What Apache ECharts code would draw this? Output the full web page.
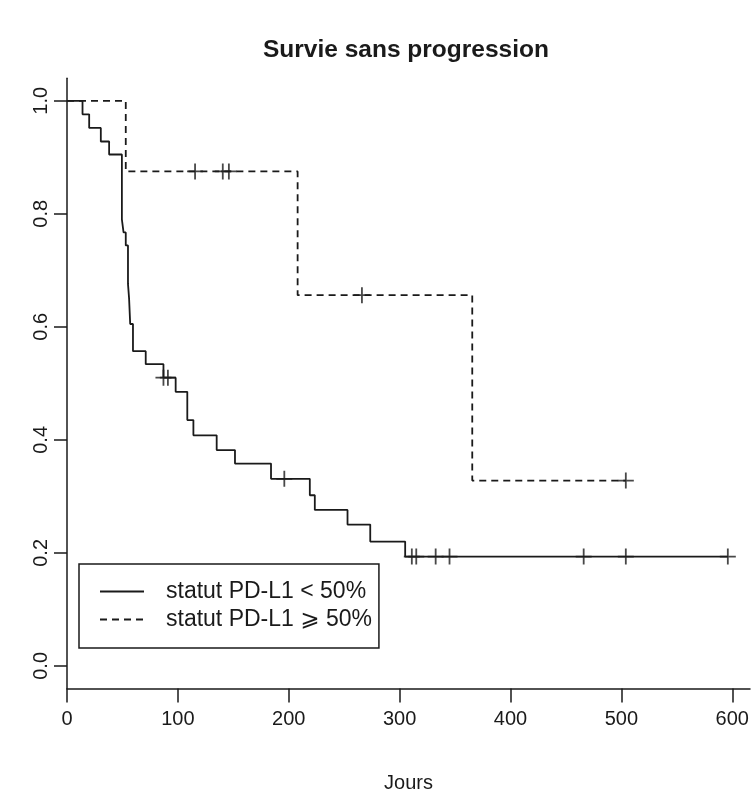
<!DOCTYPE html>
<html><head><meta charset="utf-8">
<script src="https://cdn.jsdelivr.net/npm/echarts@6/dist/echarts.min.js"></script>
<style>html,body{margin:0;padding:0;background:#fff}#c{width:753px;height:800px}</style>
</head><body><div id="c"></div>
<script>
// ---- chart data ----
const chartTitle = 'Survie sans progression';
const xAxisName = 'Jours';
const xTicks = [0, 100, 200, 300, 400, 500, 600];
const yTicks = [0, 0.2, 0.4, 0.6, 0.8, 1.0];
const lowName = 'statut PD-L1 < 50%';
const highName = 'statut PD-L1 \u2A7E 50%';

// PD-L1 < 50% : step times (days) and survival after each step
const lowDays = [0, 14, 20, 30.5, 38, 49.5, 51, 53, 55, 56, 57, 59.5, 71, 87, 98, 108.5, 114, 135, 151.5, 184, 219, 223.5, 253, 273.5, 305, 596];
const lowSurv = [1, 0.976, 0.952, 0.928, 0.905, 0.790, 0.767, 0.744, 0.676, 0.650, 0.605, 0.557, 0.534, 0.510, 0.485, 0.435, 0.408, 0.382, 0.358, 0.331, 0.302, 0.276, 0.250, 0.220, 0.1935, 0.1935];
const lowCensorDays = [87, 91, 196, 311, 315, 332.5, 345, 466, 504, 596];
const lowCensorSurv = [0.510, 0.510, 0.331, 0.1935, 0.1935, 0.1935, 0.1935, 0.1935, 0.1935, 0.1935];

// PD-L1 >= 50%
const highDays = [0, 53, 208, 365.5, 504];
const highSurv = [1, 0.875, 0.656, 0.328, 0.328];
const highCensorDays = [115.5, 140.5, 146, 266, 504];
const highCensorSurv = [0.875, 0.875, 0.875, 0.656, 0.328];

// ---- build ----
const zip = (a, b) => a.map((v, i) => [v, b[i]]);
const ink = '#1a1a1a';
const font = '"Liberation Sans", Arial, "DejaVu Sans", sans-serif';
const plus = 'path://M-0.9,-8 L0.9,-8 L0.9,8 L-0.9,8 Z M-8,-0.9 L8,-0.9 L8,0.9 L-8,0.9 Z';

const chart = echarts.init(document.getElementById('c'), null, {renderer: 'canvas'});
chart.setOption({
  animation: false,
  backgroundColor: '#fff',
  textStyle: {fontFamily: font, color: ink},
  title: {
    text: chartTitle, left: 258, top: 33,
    textStyle: {fontFamily: font, fontSize: 24.5, fontWeight: 'bold', color: ink}
  },
  grid: {left: 67, right: 3, top: 78.2, bottom: 111.5, containLabel: false},
  xAxis: {
    type: 'value', min: 0, max: 616,
    axisLine: {show: true, onZero: false, lineStyle: {color: ink, width: 1.5}},
    axisTick: {show: true, customValues: xTicks, length: 14, lineStyle: {color: ink, width: 1.5}},
    axisLabel: {customValues: xTicks, fontSize: 20, margin: 21, color: ink, fontFamily: font},
    splitLine: {show: false},
    name: xAxisName, nameLocation: 'middle', nameGap: 85,
    nameTextStyle: {fontSize: 20, color: ink, fontFamily: font}
  },
  yAxis: {
    type: 'value', min: -0.04, max: 1.04,
    axisLine: {show: true, onZero: false, lineStyle: {color: ink, width: 1.5}},
    axisTick: {show: true, customValues: yTicks, length: 13, lineStyle: {color: ink, width: 1.5}},
    axisLabel: {customValues: yTicks, rotate: 90, fontSize: 20, margin: 16, color: ink, fontFamily: font,
      formatter: v => v.toFixed(1)},
    splitLine: {show: false}
  },
  legend: {
    data: [lowName, highName], orient: 'vertical', left: 79, top: 564,
    borderColor: ink, borderWidth: 1.5, padding: [16, 7, 17, 20],
    itemWidth: 44, itemHeight: 14, itemGap: 5,
    itemStyle: {opacity: 0, borderWidth: 0},
    textStyle: {fontSize: 23, color: ink, fontFamily: font, padding: [0, 0, 0, 17]}
  },
  series: [
    {name: lowName, type: 'line', step: 'end', symbol: 'none', data: zip(lowDays, lowSurv),
      lineStyle: {color: ink, width: 1.8, type: 'solid'}, itemStyle: {color: ink}},
    {name: highName, type: 'line', step: 'end', symbol: 'none', data: zip(highDays, highSurv),
      lineStyle: {color: ink, width: 1.8, type: [7, 5]}, itemStyle: {color: ink}},
    {name: 'censor-low', type: 'scatter', symbol: plus, symbolSize: 16, silent: true,
      data: zip(lowCensorDays, lowCensorSurv), itemStyle: {color: ink}},
    {name: 'censor-high', type: 'scatter', symbol: plus, symbolSize: 16, silent: true,
      data: zip(highCensorDays, highCensorSurv), itemStyle: {color: ink}}
  ]
});
</script></body></html>
